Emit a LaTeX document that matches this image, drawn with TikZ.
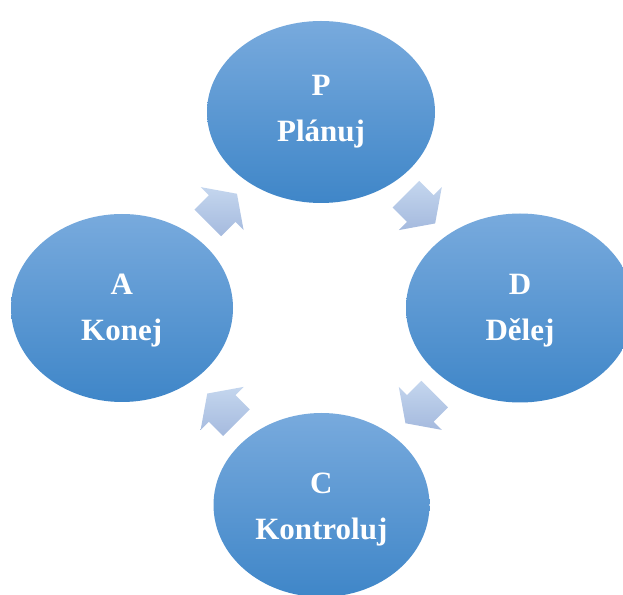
\documentclass[tikz,border=0pt]{standalone}
\usepackage{fontspec}
\setmainfont{Liberation Serif}
\usetikzlibrary{shapes.geometric,calc}
\definecolor{elltop}{RGB}{120,170,221}
\definecolor{ellmid}{RGB}{91,155,213}
\definecolor{ellbot}{RGB}{63,134,200}
\definecolor{arrtop}{RGB}{196,214,238}
\definecolor{arrbot}{RGB}{165,186,222}
\tikzset{
  phase/.style={ellipse, draw=none, inner sep=0pt, top color=elltop, middle color=ellmid, bottom color=ellbot},
  lbl/.style={text=white, font=\fontsize{31}{31}\selectfont\bfseries, inner sep=0pt, anchor=base},
  cyclearrow/.style={draw=none, top color=arrtop, bottom color=arrbot}
}
\begin{document}
\begin{tikzpicture}[x=1pt,y=1pt]
\useasboundingbox (0,0) rectangle (623,594);
\clip (0,0) rectangle (623,594);
% phases
\node[phase, minimum width=228pt, minimum height=182pt] (P) at (321,482) {};
\node[phase, minimum width=228pt, minimum height=189pt] (D) at (520,286) {};
\node[phase, minimum width=222pt, minimum height=188pt] (A) at (122,286) {};
\node[phase, minimum width=216pt, minimum height=184pt] (C) at (321.5,89) {};
% labels
\node[lbl] (P1) at (321,498) {P};
\node[lbl] (P2) at (321,452.3) {Plánuj};
\node[lbl] (D1) at (520,299.7) {D};
\node[lbl] (D2) at (520,253.3) {Dělej};
\node[lbl] (A1) at (121.7,299) {A};
\node[lbl] (A2) at (121.7,253) {Konej};
\node[lbl] (C1) at (321.3,100) {C};
\node[lbl] (C2) at (321.3,54.7) {Kontroluj};
% block arrows of the cycle
\coordinate (H1) at (420.3,385.4);
\coordinate (H2) at (420.3,185.6);
\coordinate (H3) at (222.1,185.6);
\coordinate (H4) at (222.1,385.4);
\foreach \h/\a in {H1/-45, H2/-135, H3/135, H4/45}{
  \path[cyclearrow]
    ($(\h)+(\a:21)$)
    -- ($(\h)+(\a-90:30.4)$)
    -- ($(\h)+(\a-90:18.8)$)
    -- ($(\h)+(\a:-20.3)+(\a-90:18.8)$)
    -- ($(\h)+(\a:-20.3)+(\a+90:18.8)$)
    -- ($(\h)+(\a+90:18.8)$)
    -- ($(\h)+(\a+90:30.4)$)
    -- cycle;
}
\end{tikzpicture}
\end{document}
